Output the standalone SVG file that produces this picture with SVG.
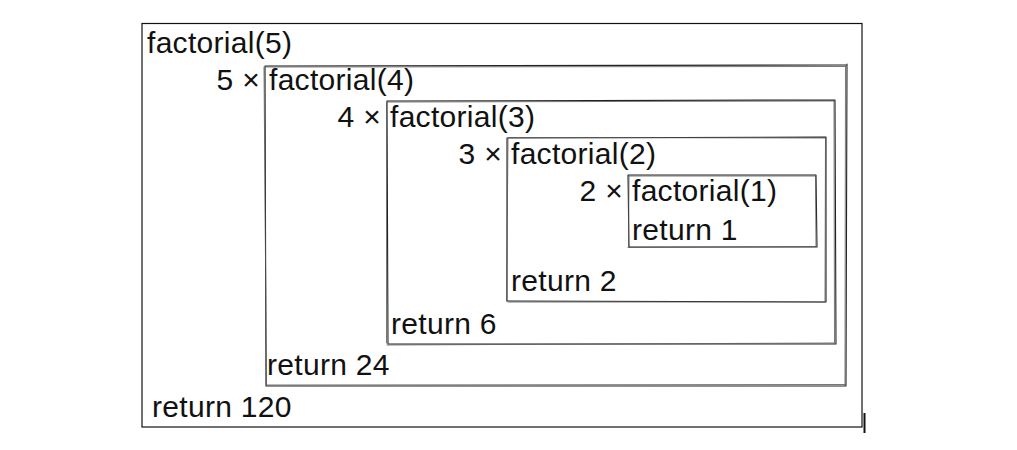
<svg xmlns="http://www.w3.org/2000/svg" width="1017" height="450" viewBox="0 0 1017 450">
<style>
text{font-family:"Liberation Sans",Arial,sans-serif;font-size:30px;letter-spacing:0.3px;fill:#111}
.m{text-anchor:end}
.s{fill:none;stroke:#222;stroke-width:1.1;stroke-linecap:round}
.s2{fill:none;stroke:#555;stroke-width:0.8;stroke-linecap:round}
</style>
<rect width="1017" height="450" fill="#fff"/>
<g id="call5">
<rect x="142" y="23.5" width="720" height="403.5" fill="none" stroke="#111" stroke-width="1.2"/>
<line x1="864.5" y1="413" x2="864.5" y2="433" stroke="#111" stroke-width="2"/>
<text x="147" y="53">factorial(5)</text>
<text x="152" y="417">return 120</text>
</g>
<g id="call4">
<path class="s" d="M265 66 L846 65 M847 64 L846 386 M846 386 L266 386 M266 386 L265 66"/>
<path class="s2" d="M266 67 L845 66.5 M845.5 66 L845 385 M845 384.5 L267 385 M266.5 385 L264 67"/>
<text class="m" x="260" y="90">5 ×</text>
<text x="269" y="90">factorial(4)</text>
<text x="267" y="375">return 24</text>
</g>
<g id="call3">
<path class="s" d="M387 101 L835 100 M835 100 L836 344 M836 344 L388 344 M388 344 L387 101"/>
<path class="s2" d="M388 102 L834 101 M834 101 L834.5 343 M834 343 L387 345 M386.5 343 L386.5 102"/>
<text class="m" x="381" y="127">4 ×</text>
<text x="390" y="127">factorial(3)</text>
<text x="391" y="334">return 6</text>
</g>
<g id="call2">
<path class="s" d="M507 138 L826 137 M826 137 L826 302 M826 302 L507 301 M507 301 L507 138"/>
<path class="s2" d="M508 137.5 L825 138 M825.5 138 L825 301 M825 302 L508 302 M506.5 301 L508 139"/>
<text class="m" x="502" y="164">3 ×</text>
<text x="511" y="164">factorial(2)</text>
<text x="511" y="291">return 2</text>
</g>
<g id="call1">
<path class="s" d="M628 175 L816 175 M816 175 L817 247 M817 247 L629 247 M629 247 L628 175"/>
<path class="s2" d="M629 176 L815 176 M815.5 176 L816 246 M816 246.5 L628 247.5 M628.5 246 L629 176"/>
<text class="m" x="623" y="201">2 ×</text>
<text x="632" y="201">factorial(1)</text>
<text x="632" y="240">return 1</text>
</g>
<g id="connectors"/>
</svg>
